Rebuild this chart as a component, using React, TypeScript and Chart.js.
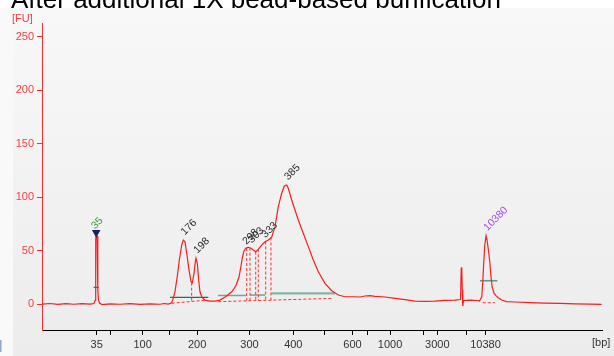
import React, { useEffect, useRef } from 'react';
import { Chart, registerables } from 'chart.js';

Chart.register(...registerables);

const TITLE = 'After additional 1X bead-based purification';

// Electropherogram trace: migration time (s) against fluorescence (FU)
const traceTime = [
  40.1, 41.29, 42.57, 43.86, 45.14, 46.43, 47.71, 48.36, 48.57, 48.63,
  48.71, 48.84, 48.97, 49.08, 49.24, 49.64, 50.93, 52.54, 54.14, 55.75,
  57.36, 58.96, 59.61, 60.30, 60.84, 61.10, 61.37, 61.74, 62.07, 62.45,
  62.71, 62.98, 63.26, 63.63, 63.95, 64.16, 64.43, 64.64, 64.75, 64.96,
  65.18, 65.39, 65.71, 66.20, 67.00, 67.80, 68.61, 69.57, 70.54, 71.18,
  71.66, 71.98, 72.22, 72.46, 72.79, 73.16, 73.59, 73.96, 74.35, 74.76,
  75.31, 75.84, 76.37, 76.91, 77.45, 77.98, 78.52, 78.94, 79.33, 79.58,
  80.13, 80.66, 81.19, 81.99, 82.80, 83.60, 84.41, 85.48, 86.56, 87.62,
  88.70, 90.03, 91.11, 91.91, 92.71, 93.52, 95.13, 96.73, 98.34, 99.95,
  101.55, 103.16, 104.77, 106.38, 107.26, 107.38, 107.46, 107.54, 107.62, 107.75,
  108.80, 110.09, 110.30, 110.68, 110.84, 111.00, 111.16, 111.37, 111.53, 111.74,
  111.97, 112.13, 112.34, 112.66, 112.96, 113.33, 113.88, 114.68, 116.02, 118.43,
  120.84, 123.25, 125.66, 128.07, 129.92,
];
const traceFU = [
  0, 0.5, -0.3, 0.3, -0.2, 0.4, 0, 0.5, 3.7, 60,
  66, 63.7, 13, 3.7, 0.9, -0.5, 0.2, -0.2, 0.3, -0.3,
  0.2, -0.2, 0.5, 0, 1.2, 5.3, 11.5, 25.6, 41.2, 55.2,
  59.9, 58.3, 47.5, 31.8, 20.9, 19.9, 28.7, 39.6, 42.8, 38.1,
  22.5, 11.5, 6.3, 3.7, 2.8, 2.8, 3.7, 7.0, 11.7, 17.3,
  25.3, 35.6, 44.0, 49.6, 52.4, 53.1, 52.2, 50.6, 49.0, 51.2,
  55.2, 58.3, 59.9, 62.5, 72.4, 91.1, 103.7, 110.5, 111.4, 108.3,
  97.4, 88.0, 78.7, 66.2, 53.7, 41.2, 30.2, 19.4, 12.5, 8.4,
  6.8, 6.8, 6.6, 7.5, 7.8, 7.2, 6.6, 5.3, 4.2, 2.8,
  2.5, 2.8, 3.5, 3.7, 4.2, 33.7, 34.4, 13.1, -1.9, 3.3,
  3.7, 3.3, 2.8, 6.8, 20.9, 39.6, 55.2, 64.0, 59.9, 50.6,
  39.6, 27.2, 16.2, 10.0, 7.8, 5.9, 3.7, 2.2, 1.9, 1.4,
  0.9, 0.7, 0.2, 0, -0.3,
];

// Ladder calibration: fragment size (bp) and its migration time (s)
const ladderBp = [35, 50, 100, 150, 200, 300, 400, 500, 600, 700, 1000, 2000, 3000, 7000, 10380];
const ladderTime = [48.79, 50.93, 56.18, 60.57, 64.94, 73.35, 80.39, 85.37, 89.9, 92.39, 95.93, 101.28, 103.53, 108.26, 111.28];
const ladderLabelled = [35, 100, 200, 300, 400, 600, 1000, 3000, 10380];

const fuTicks = [0, 50, 100, 150, 200, 250];

// Called peaks (size label, apex time, apex FU)
const peakLabel = ['35', '176', '198', '298', '303', '333', '385', '10380'];
const peakTime = [48.71, 62.71, 64.75, 72.63, 73.51, 75.68, 79.33, 111.37];
const peakFU = [67, 59.9, 42.8, 51, 52.5, 57.4, 111.4, 64.0];

// Lower marker flag
const markerTime = [48.71];
const markerFU = [67];

// Peak integration baselines (start, end, level)
const baseStart = [48.3, 60.57, 68.29, 73.43, 76.88, 110.39];
const baseEnd = [49.11, 66.73, 72.79, 75.84, 87.09, 113.17];
const baseLevel = [15.6, 6.3, 8.0, 8.4, 10.0, 21.8];

// Peak boundary / background segments (x0, y0) -> (x1, y1)
const dashX0 = [60.84, 64.05, 68.34, 72.9, 73.43, 74.35, 74.76, 75.95, 76.8, 110.84];
const dashY0 = [0.7, 20.0, 2.2, 52.4, 52.7, 49.0, 51.2, 58.5, 62.3, 1.2];
const dashX1 = [66.47, 64.05, 86.82, 72.9, 73.43, 74.35, 74.76, 75.95, 76.8, 112.82];
const dashY1 = [3.7, 2.4, 5.3, 3.0, 3.1, 3.2, 3.3, 3.5, 3.6, 1.2];

const FONT = '"Liberation Sans", Arial, sans-serif';
const baseColors = ['#2f6b50', '#2f6b50', '#7d9f94', '#7d9f94', '#86b3a5', '#5c9c85'];
const baseWidths = [1.2, 1.2, 1.5, 1.5, 2.2, 1.6];
const labelColors = ['#3a9c3a', '#2b2b2b', '#2b2b2b', '#2b2b2b', '#2b2b2b', '#2b2b2b', '#2b2b2b', '#a64cf2'];

const panelPlugin = {
  id: 'panel',
  beforeDraw(chart: any) {
    const { ctx, width, height } = chart;
    ctx.save();
    ctx.fillStyle = '#ffffff';
    ctx.fillRect(0, 0, width, height);
    ctx.font = `26px ${FONT}`;
    ctx.fillStyle = '#000000';
    ctx.textBaseline = 'alphabetic';
    ctx.textAlign = 'left';
    ctx.fillText(TITLE, 11, 7.5);
    const g = ctx.createLinearGradient(0, 8, 0, height);
    g.addColorStop(0, '#f8f8f8');
    g.addColorStop(1, '#ececec');
    ctx.fillStyle = g;
    ctx.fillRect(13, 8, width - 13, height - 8);
    ctx.fillStyle = '#f9f9f9';
    ctx.fillRect(0, 8, 13, height - 8);
    ctx.fillStyle = '#8fa8cc';
    ctx.fillRect(0, 340, 1.5, 12);
    ctx.font = `11px ${FONT}`;
    ctx.textBaseline = 'middle';
    ctx.fillStyle = '#ff3b3b';
    ctx.fillText('[FU]', 12, 19);
    ctx.fillStyle = '#333333';
    ctx.fillText('[bp]', 592, 343);
    ctx.restore();
  },
  afterDatasetsDraw(chart: any) {
    const { ctx } = chart;
    const xs = chart.scales.x;
    const ys = chart.scales.y;
    ctx.save();
    ctx.font = `10.5px ${FONT}`;
    ctx.textBaseline = 'alphabetic';
    ctx.textAlign = 'left';
    peakLabel.forEach((lab, i) => {
      const px = xs.getPixelForValue(peakTime[i]);
      const py = ys.getPixelForValue(peakFU[i]);
      const onMarker = markerTime.includes(peakTime[i]);
      ctx.save();
      ctx.translate(px + (onMarker ? -1 : 1.5), py + (onMarker ? -3 : -4.5));
      ctx.rotate(-Math.PI / 4);
      ctx.fillStyle = labelColors[i];
      ctx.fillText(lab, 0, 0);
      ctx.restore();
    });
    ctx.restore();
  },
};

export default function App() {
  const ref = useRef<HTMLCanvasElement | null>(null);

  useEffect(() => {
    document.body.style.margin = '0';
    const canvas = ref.current;
    if (!canvas) return;

    const trace = traceTime.map((t, i) => ({ x: t, y: traceFU[i] }));
    const dashes: any[] = [];
    dashX0.forEach((x0, i) => {
      dashes.push({ x: x0, y: dashY0[i] }, { x: dashX1[i], y: dashY1[i] }, { x: dashX1[i], y: null });
    });

    const baseSets = baseStart.map((s, i) => ({
      type: 'line' as const,
      data: [{ x: s, y: baseLevel[i] }, { x: baseEnd[i], y: baseLevel[i] }],
      borderColor: baseColors[i],
      borderWidth: baseWidths[i],
      pointRadius: 0,
    }));

    const chart = new Chart(canvas, {
      type: 'line',
      data: {
        datasets: [
          {
            type: 'scatter',
            data: markerTime.map((t, i) => ({ x: t, y: markerFU[i] })),
            pointStyle: 'triangle',
            rotation: 180,
            radius: 5,
            pointRadius: 5,
            backgroundColor: '#1c1c6c',
            borderColor: '#1c1c6c',
            borderWidth: 0,
          } as any,
          {
            data: trace,
            borderColor: '#ff1a1a',
            borderWidth: 1.2,
            pointRadius: 0,
            tension: 0,
          },
          {
            data: dashes,
            borderColor: '#ff3030',
            borderWidth: 1,
            borderDash: [3, 2],
            pointRadius: 0,
            spanGaps: false,
          },
          ...baseSets,
        ],
      },
      options: {
        animation: false,
        responsive: false,
        devicePixelRatio: 1,
        events: [],
        layout: { padding: { top: 23, right: 12, bottom: 0, left: 0 } },
        plugins: { legend: { display: false }, tooltip: { enabled: false }, title: { display: false } },
        scales: {
          x: {
            type: 'linear',
            min: 40,
            max: 130,
            afterBuildTicks: (s: any) => {
              s.ticks = ladderTime.map((v) => ({ value: v }));
            },
            afterFit: (s: any) => {
              s.height = 26;
            },
            border: { display: true, color: '#000000', width: 1 },
            grid: { display: true, drawOnChartArea: false, drawTicks: true, tickLength: 5, color: '#000000' },
            ticks: {
              autoSkip: false,
              maxRotation: 0,
              padding: 3,
              color: '#333333',
              font: { family: FONT, size: 11 },
              callback: (_v: any, i: number) => (ladderLabelled.includes(ladderBp[i]) ? String(ladderBp[i]) : ''),
            },
          },
          y: {
            type: 'linear',
            min: -24.3,
            max: 263,
            afterBuildTicks: (s: any) => {
              s.ticks = fuTicks.map((v) => ({ value: v }));
            },
            afterFit: (s: any) => {
              s.width = 42;
            },
            border: { display: true, color: '#ff2a2a', width: 1 },
            grid: { display: true, drawOnChartArea: false, drawTicks: true, tickLength: 5, color: '#ff2a2a' },
            ticks: {
              padding: 3,
              color: '#ff3b3b',
              font: { family: FONT, size: 11 },
              callback: (v: any) => String(v),
            },
          },
        },
      },
      plugins: [panelPlugin],
    });

    return () => chart.destroy();
  }, []);

  return (
    <div style={{ position: 'fixed', left: 0, top: 0, width: 614, height: 356 }}>
      <canvas ref={ref} width={614} height={356} style={{ display: 'block' }} />
    </div>
  );
}
